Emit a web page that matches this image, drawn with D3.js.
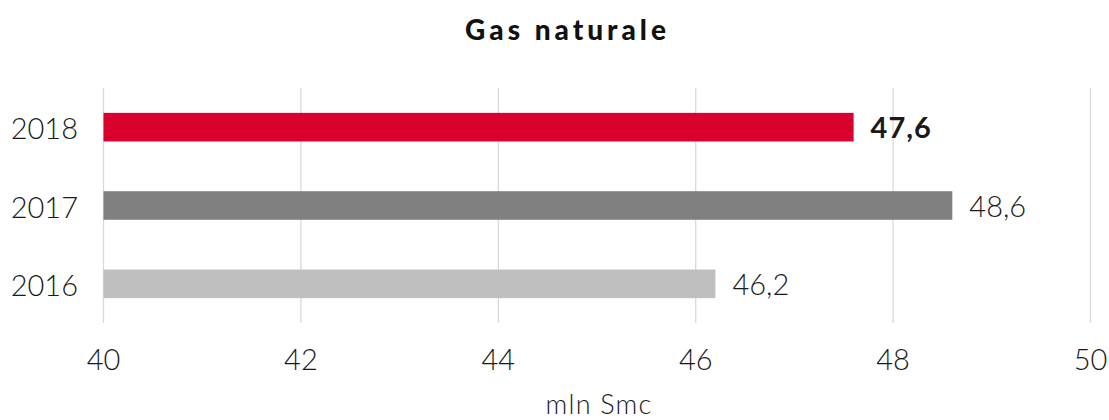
<!DOCTYPE html>
<html><head><meta charset="utf-8">
<script src="https://cdn.jsdelivr.net/npm/d3@7"></script>
<style>
body{margin:0;background:#fff;}
text{font-family:Lato,"Open Sans",sans-serif;}
</style></head>
<body><svg id="c" width="1109" height="420"></svg>
<script>
const title = "Gas naturale";
const categories = ["2018","2017","2016"];
const values = [47.6, 48.6, 46.2];
const valueLabels = ["47,6","48,6","46,2"];
const colors = ["#d9002e","#808080","#bfbfbf"];
const xTicks = [40,42,44,46,48,50];
const xLabel = "mln Smc";

const svg = d3.select("#c");
const x = d3.scaleLinear().domain([40,50]).range([103.5,1090.5]);
const y = d3.scaleBand().domain(categories).range([88,323]).paddingInner(0.635).paddingOuter(0.3175);

svg.append("g").selectAll("line").data(xTicks).join("line")
  .attr("x1",d=>x(d)).attr("x2",d=>x(d)).attr("y1",88).attr("y2",323)
  .attr("stroke","#d9d9d9").attr("stroke-width",1.3);

svg.append("g").selectAll("rect").data(categories).join("rect")
  .attr("x",x(40)).attr("y",d=>y(d)).attr("height",y.bandwidth())
  .attr("width",(d,i)=>x(values[i])-x(40)).attr("fill",(d,i)=>colors[i]);

svg.append("g").selectAll("text").data(categories).join("text")
  .attr("x",(d,i)=>x(values[i])+17).attr("y",d=>y(d)+y.bandwidth()/2+11)
  .attr("font-size",29).attr("font-weight",(d,i)=>i===0?700:300).attr("fill","#1a1a1a")
  .attr("letter-spacing",(d,i)=>i===0?1:0)
  .text((d,i)=>valueLabels[i]);

svg.append("g").selectAll("text").data(categories).join("text")
  .attr("x",78).attr("y",d=>y(d)+y.bandwidth()/2+12).attr("text-anchor","end")
  .attr("font-size",29).attr("font-weight",300).attr("fill","#1a1a1a").text(d=>d);

svg.append("g").selectAll("text").data(xTicks).join("text")
  .attr("x",d=>x(d)).attr("y",370).attr("text-anchor","middle")
  .attr("font-size",29).attr("font-weight",300).attr("fill","#1a1a1a").text(d=>d);

svg.append("text").attr("x",599).attr("y",414).attr("text-anchor","middle")
  .attr("font-size",27).attr("font-weight",300).attr("letter-spacing",1.2).attr("fill","#1a1a1a").text(xLabel);

svg.append("text").attr("x",567.5).attr("y",40).attr("text-anchor","middle")
  .attr("font-size",28).attr("font-weight",900).attr("letter-spacing",4).attr("fill","#111").text(title);
</script></body></html>
